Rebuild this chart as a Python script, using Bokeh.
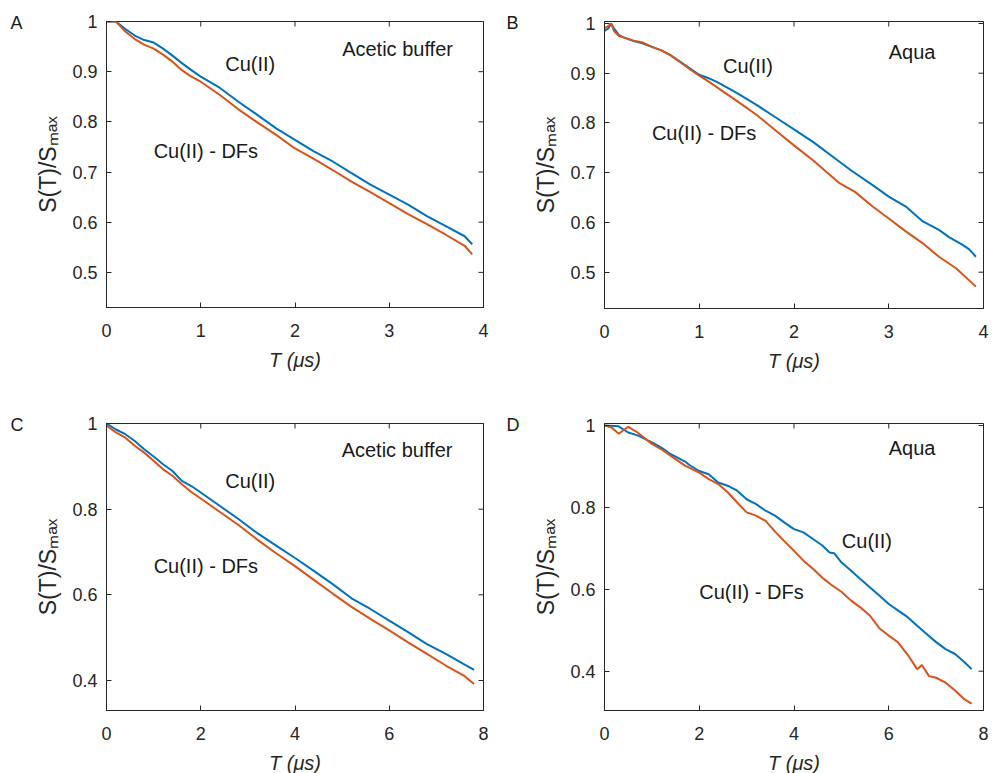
import math
from bokeh.plotting import figure
from bokeh.models import Range1d, FixedTicker, CustomJSTickFormatter, ColumnDataSource
from bokeh.layouts import column, row
from bokeh.core.properties import value
from bokeh.embed import file_html
from bokeh.resources import INLINE

# ---------------- data ----------------
# Panel A : Acetic buffer, short time window
A_t = [0, 0.1, 0.2, 0.3, 0.4, 0.5, 0.6, 0.7, 0.8, 0.9, 1.0, 1.2, 1.4, 1.6,
       1.8, 2.0, 2.2, 2.4, 2.6, 2.8, 3.0, 3.2, 3.4, 3.6, 3.8, 3.88]
A_cu = [1.0, 1.0, 0.985, 0.972, 0.963, 0.958, 0.946, 0.932, 0.917, 0.903,
        0.890, 0.868, 0.840, 0.814, 0.787, 0.764, 0.741, 0.721, 0.698, 0.675,
        0.655, 0.635, 0.612, 0.592, 0.572, 0.556]
A_df = [1.0, 1.0, 0.980, 0.965, 0.954, 0.946, 0.934, 0.920, 0.903, 0.890,
        0.880, 0.854, 0.825, 0.799, 0.774, 0.747, 0.726, 0.704, 0.681, 0.660,
        0.638, 0.616, 0.596, 0.575, 0.553, 0.536]

# Panel B : Aqua, short time window
B_t_cu = [0, 0.04, 0.07, 0.1, 0.15, 0.2, 0.3, 0.4, 0.5, 0.6, 0.7, 0.8, 0.9,
          1.0, 1.1, 1.2, 1.4, 1.6, 1.8, 2.0, 2.2, 2.48, 2.6, 2.83, 3.0, 3.18,
          3.36, 3.53, 3.64, 3.78, 3.85, 3.92]
B_cu = [0.985, 0.99, 1.0, 0.99, 0.977, 0.972, 0.965, 0.960, 0.953, 0.946,
        0.936, 0.923, 0.910, 0.897, 0.890, 0.881, 0.860, 0.837, 0.812, 0.787,
        0.762, 0.722, 0.705, 0.675, 0.652, 0.632, 0.602, 0.585, 0.570, 0.555,
        0.546, 0.531]
B_t_df = [0, 0.04, 0.07, 0.1, 0.15, 0.2, 0.3, 0.4, 0.5, 0.6, 0.7, 0.8, 0.9,
          1.0, 1.1, 1.2, 1.4, 1.6, 1.8, 2.0, 2.2, 2.48, 2.64, 2.83, 3.0, 3.18,
          3.36, 3.53, 3.71, 3.92]
B_df = [0.99, 0.995, 1.0, 0.985, 0.975, 0.972, 0.966, 0.962, 0.953, 0.946,
        0.936, 0.922, 0.908, 0.895, 0.883, 0.870, 0.844, 0.817, 0.786, 0.755,
        0.725, 0.679, 0.662, 0.632, 0.608, 0.582, 0.558, 0.531, 0.508, 0.471]

# Panel C : Acetic buffer, long time window
C_t = [0, 0.2, 0.4, 0.6, 0.8, 1.0, 1.2, 1.4, 1.6, 1.8, 2.0, 2.4, 2.8, 3.2,
       3.6, 4.0, 4.4, 4.8, 5.2, 5.6, 6.0, 6.4, 6.8, 7.2, 7.6, 7.8]
C_cu = [1.0, 0.986, 0.975, 0.959, 0.940, 0.923, 0.905, 0.889, 0.866, 0.854,
        0.839, 0.808, 0.777, 0.744, 0.715, 0.686, 0.656, 0.625, 0.592, 0.567,
        0.540, 0.513, 0.485, 0.462, 0.437, 0.425]
C_df = [0.995, 0.979, 0.967, 0.948, 0.932, 0.913, 0.893, 0.878, 0.858, 0.840,
        0.825, 0.794, 0.763, 0.729, 0.697, 0.667, 0.635, 0.603, 0.572, 0.544,
        0.517, 0.489, 0.462, 0.435, 0.410, 0.392]

# Panel D : Aqua, long time window
D_t_cu = [0, 0.3, 0.5, 0.7, 1.0, 1.2, 1.4, 1.6, 1.7, 1.8, 2.0, 2.2, 2.4, 2.6,
          2.8, 3.0, 3.2, 3.4, 3.6, 3.8, 4.0, 4.2, 4.4, 4.6, 4.75, 4.85, 5.0,
          5.2, 5.4, 5.6, 5.8, 6.0, 6.2, 6.4, 6.6, 6.8, 7.0, 7.2, 7.4, 7.6, 7.75]
D_cu = [1.0, 0.998, 0.983, 0.976, 0.959, 0.946, 0.930, 0.918, 0.912, 0.903,
        0.889, 0.881, 0.861, 0.853, 0.841, 0.820, 0.808, 0.792, 0.780, 0.763,
        0.747, 0.739, 0.723, 0.707, 0.690, 0.688, 0.666, 0.646, 0.625, 0.605,
        0.585, 0.564, 0.548, 0.532, 0.511, 0.491, 0.471, 0.454, 0.442, 0.422,
        0.405]
D_t_df = [0, 0.15, 0.3, 0.5, 0.7, 1.0, 1.2, 1.4, 1.7, 2.0, 2.2, 2.4, 2.6, 2.8,
          3.0, 3.2, 3.4, 3.6, 3.8, 4.0, 4.2, 4.4, 4.6, 4.8, 5.0, 5.2, 5.4, 5.6,
          5.8, 6.0, 6.2, 6.4, 6.6, 6.7, 6.85, 7.0, 7.2, 7.4, 7.6, 7.75]
D_df = [1.0, 0.995, 0.980, 0.997, 0.983, 0.955, 0.942, 0.926, 0.902, 0.885,
        0.869, 0.857, 0.837, 0.812, 0.788, 0.780, 0.767, 0.741, 0.717, 0.694,
        0.670, 0.650, 0.628, 0.610, 0.594, 0.573, 0.556, 0.536, 0.505, 0.487,
        0.470, 0.440, 0.405, 0.415, 0.388, 0.384, 0.372, 0.353, 0.331, 0.321]

# tick labels
x_ticks_short = [0, 1, 2, 3, 4]
x_ticks_long = [0, 2, 4, 6, 8]
y_ticks_AB = [0.5, 0.6, 0.7, 0.8, 0.9, 1.0]
y_ticks_CD = [0.4, 0.6, 0.8, 1.0]

panel_letters = ["A", "B", "C", "D"]
medium = ["Acetic buffer", "Aqua", "Acetic buffer", "Aqua"]
series_names = ["Cu(II)", "Cu(II) - DFs"]
y_label = "S(T)/S\u2098\u2090\u2093"
x_label = "T (\u03bcs)"

# ---------------- styling ----------------
FONT = "Liberation Sans"
AX = "#262626"
BLUE = "#0072BD"
ORANGE = "#D95319"


def make_panel(letter, t_cu, cu, t_df, df, xr, yr, xticks, yticks,
               fw, fh, bl, br, bt, bb, notes):
    p = figure(output_backend="svg", toolbar_location=None,
               frame_width=fw, frame_height=fh,
               x_range=Range1d(*xr), y_range=Range1d(*yr),
               min_border_left=bl, min_border_right=br,
               min_border_top=bt, min_border_bottom=bb)
    p.xgrid.visible = False
    p.ygrid.visible = False
    p.outline_line_color = AX
    p.outline_line_width = 1
    p.background_fill_color = "white"
    p.border_fill_color = "white"

    fmt = CustomJSTickFormatter(code="return String(Math.round(tick*100)/100);")
    for ax, tk in ((p.xaxis[0], xticks), (p.yaxis[0], yticks)):
        ax.ticker = FixedTicker(ticks=tk)
        ax.formatter = fmt
        ax.minor_tick_line_color = None
        ax.major_tick_in = 5
        ax.major_tick_out = 0
        ax.axis_line_color = AX
        ax.major_tick_line_color = AX
        ax.major_label_text_font = FONT
        ax.major_label_text_font_size = "18px"
        ax.major_label_text_color = AX
    p.xaxis.major_label_standoff = 16
    p.yaxis.major_label_standoff = 9
    p.xaxis.axis_label = x_label
    p.xaxis.axis_label_text_font = FONT
    p.xaxis.axis_label_text_font_style = "italic"
    p.xaxis.axis_label_text_font_size = "20px"
    p.xaxis.axis_label_text_color = AX
    p.xaxis.axis_label_standoff = 9

    p.yaxis.axis_label = y_label
    p.yaxis.axis_label_text_font = FONT
    p.yaxis.axis_label_text_font_style = "normal"
    p.yaxis.axis_label_text_font_size = "23px"
    p.yaxis.axis_label_text_color = AX
    p.yaxis.axis_label_standoff = 8

    # inward box ticks on the top and right edges of the frame
    p.ray(x=xticks, y=[yr[1]] * len(xticks), length=5, length_units="screen",
          angle=-math.pi / 2, line_color=AX, line_width=1)
    p.ray(x=[xr[1]] * len(yticks), y=yticks, length=5, length_units="screen",
          angle=math.pi, line_color=AX, line_width=1)

    p.line(t_cu, cu, line_color=BLUE, line_width=2)
    p.line(t_df, df, line_color=ORANGE, line_width=2)

    src = ColumnDataSource(dict(x=[n[0] for n in notes], y=[n[1] for n in notes],
                                text=[n[2] for n in notes]))
    p.text(x="x", y="y", text="text", source=src, text_font=value(FONT),
           text_font_size="20px", text_align="left", text_baseline="middle",
           text_color="#1a1a1a")

    # panel letter as a left-aligned title shifted over the left margin
    p.title.text = letter
    p.title.align = "left"
    p.title.offset = -(bl - 10)
    p.title.standoff = -22
    p.title.text_font = FONT
    p.title.text_font_size = "18px"
    p.title.text_font_style = "normal"
    p.title.text_color = "#1a1a1a"
    return p


pA = make_panel(panel_letters[0], A_t, A_cu, A_t, A_df, (0, 4), (0.43, 1.0),
                x_ticks_short, y_ticks_AB, 377, 286, 106, 13, 21, 79,
                [(2.50, 0.945, medium[0]), (1.26, 0.915, series_names[0]),
                 (0.50, 0.742, series_names[1])])
pB = make_panel(panel_letters[1], B_t_cu, B_cu, B_t_df, B_df, (0, 4), (0.427, 1.004),
                x_ticks_short, y_ticks_AB, 379, 287, 108, 9, 21, 78,
                [(3.0, 0.943, medium[1]), (1.25, 0.915, series_names[0]),
                 (0.50, 0.779, series_names[1])])
pC = make_panel(panel_letters[2], C_t, C_cu, C_t, C_df, (0, 8), (0.33, 1.0),
                x_ticks_long, y_ticks_CD, 377, 287, 106, 13, 37, 63,
                [(4.99, 0.938, medium[2]), (2.52, 0.866, series_names[0]),
                 (1.0, 0.668, series_names[1])])
pD = make_panel(panel_letters[3], D_t_cu, D_cu, D_t_df, D_df, (0, 8), (0.304, 1.005),
                x_ticks_long, y_ticks_CD, 379, 287, 108, 9, 36, 64,
                [(6.0, 0.944, medium[3]), (5.01, 0.719, series_names[0]),
                 (2.0, 0.593, series_names[1])])

layout = column(row(pA, pB), row(pC, pD))
open("out.html", "w").write(file_html(layout, INLINE))
